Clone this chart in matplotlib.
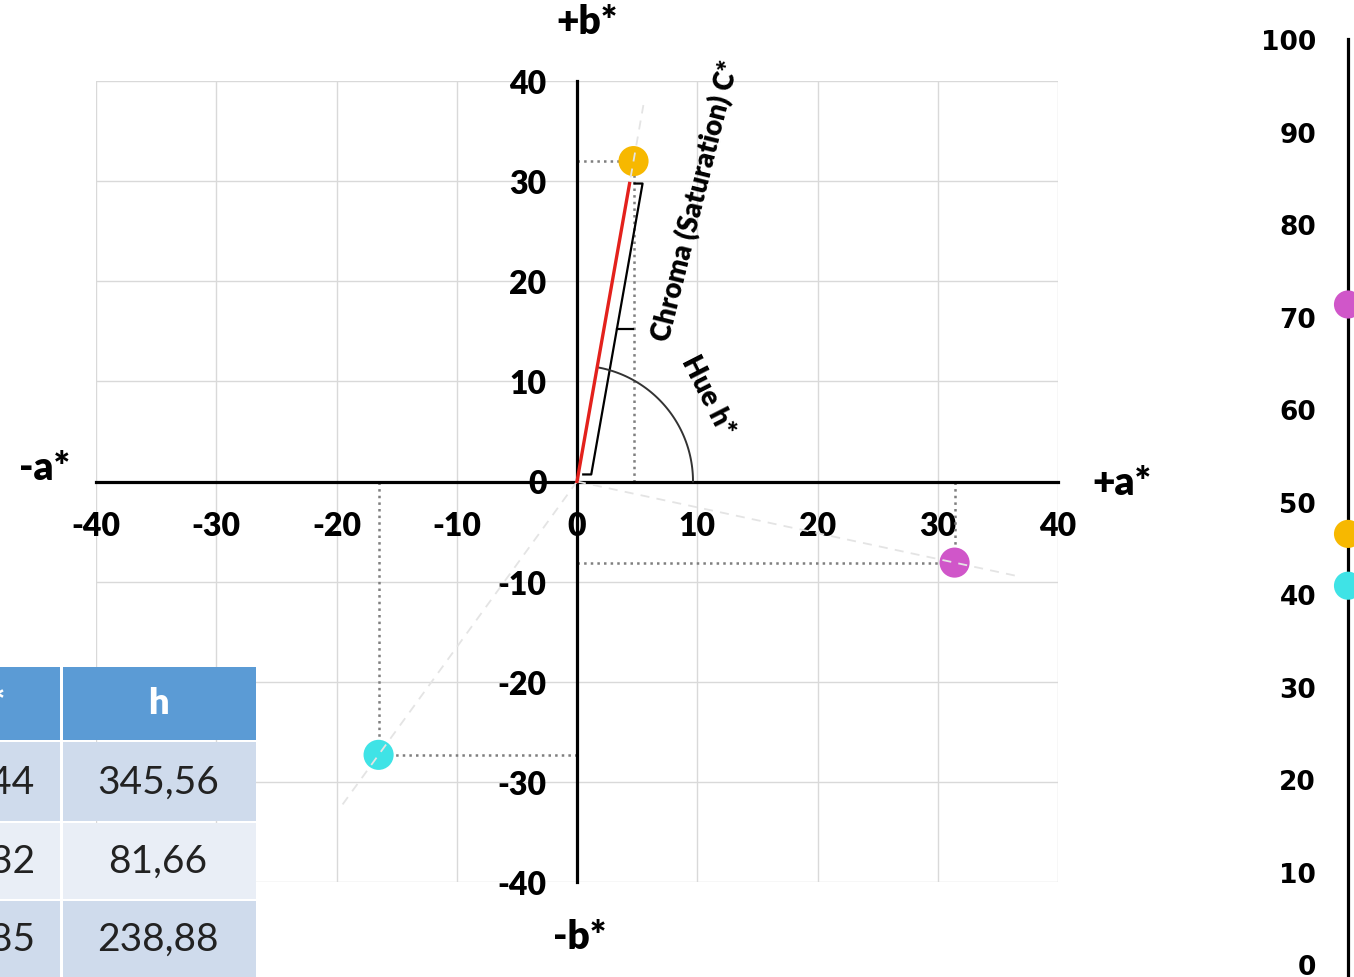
import numpy as np
import matplotlib.pyplot as plt
from matplotlib.patches import Rectangle

plt.rcParams['font.family'] = ['Lato', 'DejaVu Sans']
plt.rcParams['axes.unicode_minus'] = False

# CIELab samples (magenta, yellow, cyan)
colors = ['#D056C9', '#F7B800', '#3FE3E6']
a_vals = [31.4, 4.7, -16.5]
b_vals = [-8.1, 32.0, -27.3]
L_vals = [71.3, 46.5, 40.9]
c_vals = [32.44, 32.32, 31.85]
h_vals = [345.56, 81.66, 238.88]

ticks = list(range(-40, 41, 10))
L_ticks = list(range(0, 101, 10))

W, H = 1354, 978


def px_rect(x0, y0, x1, y1):
    return [x0 / W, 1 - y1 / H, (x1 - x0) / W, (y1 - y0) / H]


fig = plt.figure(figsize=(W / 100, H / 100), dpi=100)

# ---- a*/b* plane ----
ax = fig.add_axes(px_rect(96, 82, 1058, 883))
ax.set_xlim(-40, 40)
ax.set_ylim(-40, 40)
ax.set_xticks(ticks)
ax.set_yticks(ticks)
ax.grid(True, color='#D9D9D9', lw=1)
ax.set_axisbelow(True)
for s in ['top', 'right']:
    ax.spines[s].set_visible(False)
for s in ['left', 'bottom']:
    ax.spines[s].set_position('zero')
    ax.spines[s].set_linewidth(2.3)
    ax.spines[s].set_zorder(3)
ax.tick_params(length=0, labelsize=23)
ax.tick_params(axis='x', pad=21)
ax.tick_params(axis='y', pad=22)
for lbl in ax.get_xticklabels() + ax.get_yticklabels():
    lbl.set_fontweight('heavy')

kx = 80 / 962  # data units per pixel
ky = 80 / 801

# hue direction lines and projections
for a, b in zip(a_vals, b_vals):
    r = np.hypot(a, b)
    ax.plot([0, a * 38 / r], [0, b * 38 / r], color='#E4E4E4', lw=1.3,
            dashes=(5, 4), zorder=6)
    ax.plot([a, a], [0, b], color='#7F7F7F', lw=1.8, ls=':', zorder=2)
    ax.plot([0, a], [b, b], color='#7F7F7F', lw=1.8, ls=':', zorder=2)

ax.scatter(a_vals, b_vals, s=470, c=colors, edgecolors='none', zorder=5)

# chroma of the yellow sample
ya, yb = a_vals[1], b_vals[1]
ax.plot([0, 0.93 * ya], [0, 0.93 * yb], color='#E3211C', lw=2.4, zorder=7)

t0, t1 = 0.022, 0.93
off, tk, mid = 13 * kx, 8 * kx, 16 * kx
ax.plot([t0 * ya + off - tk, t0 * ya + off, t1 * ya + off, t1 * ya + off - tk],
        [t0 * yb, t0 * yb, t1 * yb, t1 * yb], color='black', lw=1.6, zorder=4)
tm = (t0 + t1) / 2
ax.plot([tm * ya + off, tm * ya + off + mid], [tm * yb, tm * yb],
        color='black', lw=1.6, zorder=4)

# hue arc
end = np.arctan2(yb / ky, ya / kx)
t = np.linspace(0, end, 80)
ax.plot(116 * kx * np.cos(t), 116 * ky * np.sin(t), color='#333333', lw=1.4, zorder=4)

ax.text(119 * kx, 282 * ky, 'Chroma (Saturation) C*', rotation=76,
        ha='center', va='center', fontsize=20, fontweight='heavy', zorder=8)
ax.text(131 * kx, 87 * ky, 'Hue h*', rotation=-63,
        ha='center', va='center', fontsize=20, fontweight='heavy', zorder=8)

lab_kw = dict(ha='center', va='center', fontsize=28, fontweight='heavy', clip_on=False)
ax.text(10 * kx, 460 * ky, '+b*', **lab_kw)
ax.text(3 * kx, -455 * ky, '-b*', **lab_kw)
ax.text(-532 * kx, 14 * ky, '-a*', **lab_kw)
ax.text(545 * kx, -1 * ky, '+a*', **lab_kw)

# ---- L* scale ----
ax2 = fig.add_axes(px_rect(1348, 40, 1380, 978))
ax2.set_ylim(-1.4, 99.78)
ax2.set_xlim(0, 1)
ax2.patch.set_visible(False)
for s in ['top', 'right', 'bottom']:
    ax2.spines[s].set_visible(False)
ax2.spines['left'].set_linewidth(2.3)
ax2.set_xticks([])
ax2.set_yticks(L_ticks)
ax2.tick_params(length=0, pad=23)
for lbl in ax2.get_yticklabels():
    lbl.set_fontfamily('DejaVu Sans')
    lbl.set_fontweight('bold')
    lbl.set_fontsize(19)
ax2.scatter([0] * len(L_vals), L_vals, s=410, c=colors, edgecolors='none',
            clip_on=False, zorder=5)

# ---- table ----
tab = fig.add_axes([0, 0, 1, 1], zorder=10)
tab.set_xlim(0, W)
tab.set_ylim(H, 0)
tab.axis('off')

col_x = [(-200, 60), (63, 256)]
row_y = [(668, 741), (743, 822), (824, 900), (902, 990)]
row_fc = ['#5B9BD5', '#CFDBEC', '#E9EEF6', '#CFDBEC']
for (y0, y1), fc in zip(row_y, row_fc):
    for x0, x1 in col_x:
        tab.add_patch(Rectangle((x0, y0), x1 - x0, y1 - y0, facecolor=fc,
                                edgecolor='none'))

tab.text(6, 704, 'C*', ha='right', va='center', color='white', fontsize=26,
         fontweight='heavy')
tab.text(158, 704, 'h', ha='center', va='center', color='white', fontsize=26,
         fontweight='heavy')
for i, (c, h) in enumerate(zip(c_vals, h_vals)):
    yc = (row_y[i + 1][0] + min(row_y[i + 1][1], 978)) / 2
    tab.text(35, yc, f'{c:.2f}'.replace('.', ','), ha='right', va='center',
             fontsize=28, color='#222222')
    tab.text(158, yc, f'{h:.2f}'.replace('.', ','), ha='center', va='center',
             fontsize=28, color='#222222')

fig.savefig('out.png', dpi=100)
